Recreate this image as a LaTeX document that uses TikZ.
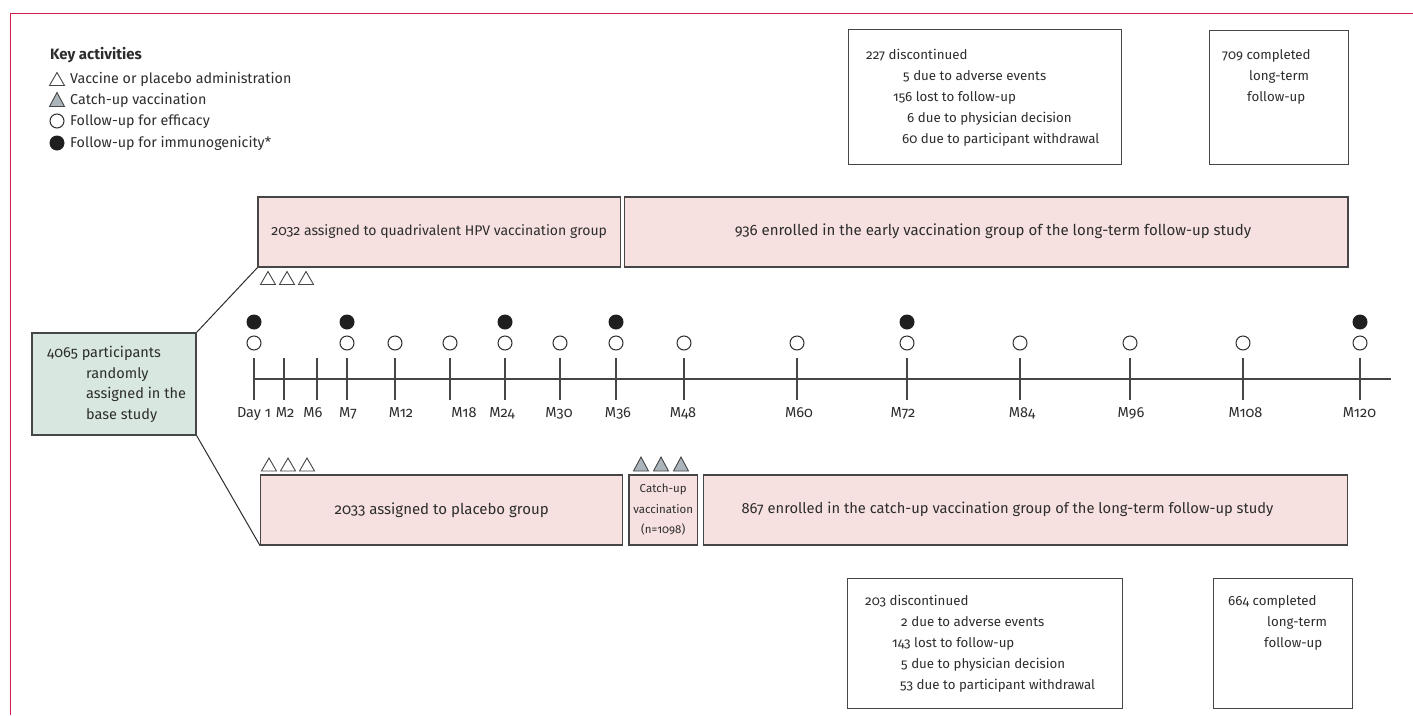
\documentclass[tikz,border=0pt]{standalone}
\usepackage{fontspec}
\setmainfont{Fira Sans}[Numbers=OldStyle]
\usetikzlibrary{calc}
\definecolor{framec}{RGB}{212,30,80}
\definecolor{pinkfill}{RGB}{246,225,224}
\definecolor{greenfill}{RGB}{216,232,224}
\definecolor{edgec}{RGB}{70,70,70}
\definecolor{txt}{RGB}{45,45,45}
\definecolor{trigrey}{RGB}{170,180,186}
\begin{document}
\begin{tikzpicture}[x=1pt,y=-1pt,
  font=\fontsize{13.3}{15}\selectfont, text=txt,
  legfont/.style={font=\fontsize{14.3}{15}\selectfont},
  grfont/.style={font=\fontsize{14.5}{15}\selectfont},
  pinkbox/.style={draw=edgec, line width=1.3pt, fill=pinkfill, inner sep=0pt, minimum height=70pt, font=\fontsize{14}{15}\selectfont},
  whitebox/.style={draw=edgec, line width=1pt, fill=white, inner sep=0pt},
  lbl/.style={anchor=base west, inner sep=0pt},
  tlbl/.style={anchor=base, inner sep=0pt, font=\fontsize{14.5}{15}\selectfont},
  opencirc/.style={circle, draw=txt, line width=1pt, fill=white, minimum size=14pt, inner sep=0pt},
  fillcirc/.style={circle, fill=black!88, minimum size=15pt, inner sep=0pt},
  axisline/.style={draw=edgec, line width=1.2pt},
  conn/.style={draw=txt, line width=1pt},
  opentri/.pic={\draw[edgec, line width=0.9pt, fill=white, line join=miter] (-7.5,0) -- (7.5,0) -- (0,-13) -- cycle;},
  greytri/.pic={\draw[edgec, line width=0.9pt, fill=trigrey, line join=miter] (-7.5,0) -- (7.5,0) -- (0,-14) -- cycle;}
]
\useasboundingbox (0,0) rectangle (1413,715);
\fill[white] (0,0) rectangle (1413,715);

% frame
\coordinate (fTL) at (10.5,13);
\coordinate (fTR) at (1413,13);
\coordinate (fBL) at (10.5,715);
\draw[framec, line width=0.9pt] (fTL) -- (fTR);
\draw[framec, line width=1.3pt] (fTL) -- (fBL);

% legend
\node[lbl, font=\fontsize{15}{15}\selectfont\bfseries] (keyt) at (50,59.5) {Key activities};
\pic at (57,85.5) {opentri};
\node[lbl, legfont] (k1) at (70,83.5) {Vaccine or placebo administration};
\pic at (57,106.5) {greytri};
\node[lbl, legfont] (k2) at (70,104.5) {Catch-up vaccination};
\node[opencirc] (k3c) at (57,121) {};
\node[lbl, legfont] (k3) at (70,125.5) {Follow-up for efficacy};
\node[fillcirc] (k4c) at (57,143) {};
\node[lbl, legfont] (k4) at (70,147.5) {Follow-up for immunogenicity*};

% top white boxes
\node[whitebox, minimum width=273pt, minimum height=135pt] (disc1) at (984.5,96.5) {};
\node[lbl] at (866,59) {227 discontinued};
\node[lbl] at (903,80) {5 due to adverse events};
\node[lbl] at (893,101) {156 lost to follow-up};
\node[lbl] at (907,122) {6 due to physician decision};
\node[lbl] at (902,143) {60 due to participant withdrawal};
\node[whitebox, minimum width=139pt, minimum height=134pt] (comp1) at (1278.5,97) {};
\node[lbl] at (1222,59) {709 completed};
\node[lbl] at (1249,80) {long-term};
\node[lbl] at (1247,101) {follow-up};

% bottom white boxes
\node[whitebox, minimum width=274.7pt, minimum height=130pt] (disc2) at (985.3,643) {};
\node[lbl] at (865,605.5) {203 discontinued};
\node[lbl] at (901,626.5) {2 due to adverse events};
\node[lbl] at (892,647.5) {143 lost to follow-up};
\node[lbl] at (901,668.5) {5 due to physician decision};
\node[lbl] at (900,689.5) {53 due to participant withdrawal};
\node[whitebox, minimum width=139pt, minimum height=130pt] (comp2) at (1282.5,643) {};
\node[lbl] at (1228,605.5) {664 completed};
\node[lbl] at (1267,626.5) {long-term};
\node[lbl] at (1264,647.5) {follow-up};

% pink group boxes
\node[pinkbox, minimum width=362.3pt] (quad) at (439.2,232) {2032 assigned to quadrivalent HPV vaccination group};
\node[pinkbox, minimum width=723.7pt] (early) at (986.2,232) {};
\node[inner sep=0pt, font=\fontsize{15}{15}\selectfont] (earlyt) at (993,231) {936 enrolled in the early vaccination group of the long-term follow-up study};
\node[pinkbox, minimum width=362pt, font=\fontsize{15}{15}\selectfont] (plac) at (441.7,510) {2033 assigned to placebo group};
\node[pinkbox, minimum width=68.3pt, align=center, font=\fontsize{11.5}{20.5}\selectfont] (catch) at (663.2,510) {Catch-up\\vaccination\\(n=1098)};
\node[pinkbox, minimum width=644.4pt] (late) at (1025.5,510) {};
\node[inner sep=0pt, font=\fontsize{14.7}{15}\selectfont] (latet) at (1007.5,509) {867 enrolled in the catch-up vaccination group of the long-term follow-up study};

% base study box
\node[draw=edgec, line width=1.3pt, fill=greenfill, minimum width=164pt, minimum height=102pt, inner sep=0pt] (base) at (114,384) {};
\node[lbl, grfont] at (47,357.5) {4065 participants};
\node[lbl, grfont] at (86,378) {randomly};
\node[lbl, grfont] at (86,398.5) {assigned in the};
\node[lbl, grfont] at (86,419) {base study};

\draw[conn] (base.north east) -- (quad.south west);
\draw[conn] (base.south east) -- (plac.south west);

% vaccination triangles
\foreach \x in {268,287,306} \pic at (\x,284.5) {opentri};
\foreach \x in {269,288,307} \pic at (\x,471) {opentri};
\foreach \x in {641,661,681} \pic at (\x,471) {greytri};

% timeline
\coordinate (axL) at (254,379);
\coordinate (axR) at (1391,379);
\draw[axisline] (axL) -- (axR);
\foreach \n/\x/\lx/\lab in {d1/254/254/Day 1, m2/284/285/M2, m6/317/313/M6, m7/347/348/M7, m12/395/401/M12, m18/450/464/M18, m24/505/502/M24, m30/560/559/M30, m36/616/618/M36, m48/684/683/M48, m60/797/799/M60, m72/907/903/M72, m84/1020/1022/M84, m96/1130/1131/M96, m108/1243/1245.5/M108, m120/1360/1359.5/M120}{
  \coordinate (t\n a) at (\x,358);
  \coordinate (t\n b) at (\x,400);
  \draw[axisline] (t\n a) -- (t\n b);
  \node[tlbl] (l\n) at (\lx,417.5) {\lab};
}
\foreach \n/\x in {d1/254, m7/347, m12/395, m18/450, m24/505, m30/560, m36/616, m48/684, m60/797, m72/907, m84/1020, m96/1130, m108/1243, m120/1360}
  \node[opencirc] (o\n) at (\x,343) {};
\foreach \n/\x in {d1/254, m7/347, m24/505, m36/616, m72/907, m120/1360}
  \node[fillcirc] (f\n) at (\x,322) {};
\end{tikzpicture}
\end{document}
